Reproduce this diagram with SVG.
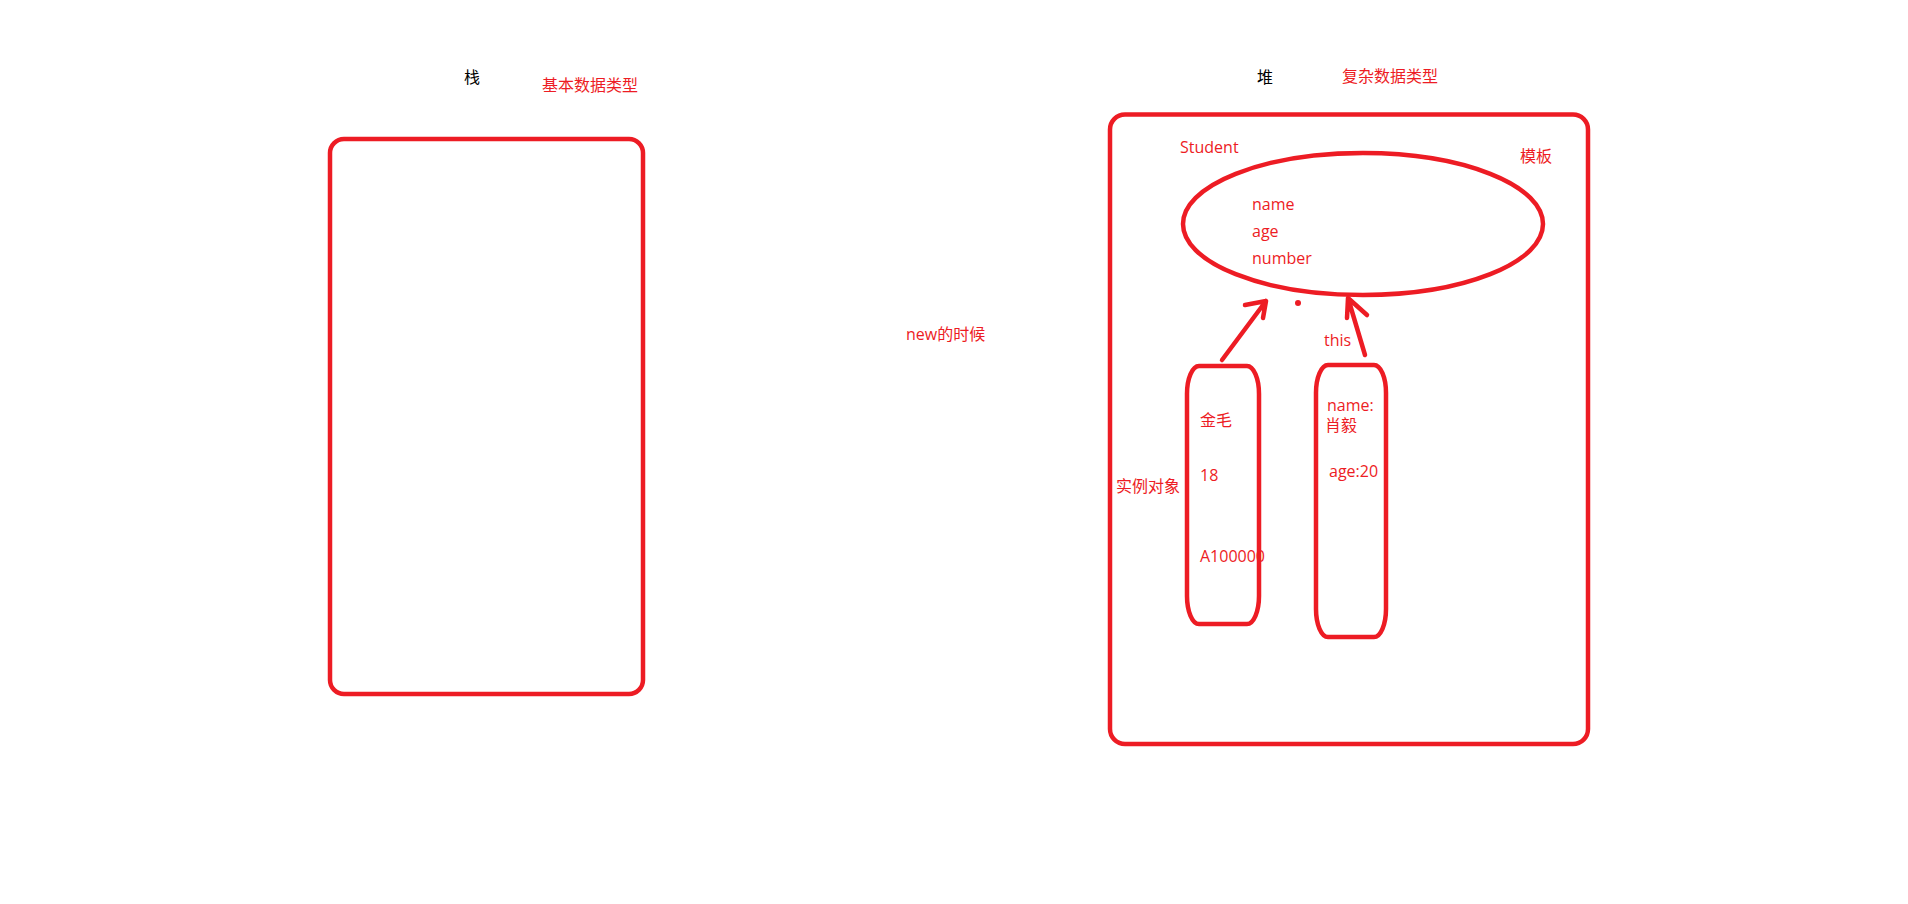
<svg xmlns="http://www.w3.org/2000/svg" width="1908" height="904" viewBox="0 0 1908 904">
<style>
.shape{fill:none;stroke:#ED1C24;stroke-width:4.5;stroke-linecap:round;stroke-linejoin:round}
.t{font-family:"Open Sans","Noto Sans CJK SC",sans-serif;font-size:16px;fill:#ED1C24}
.k{font-family:"Open Sans","Noto Sans CJK SC",sans-serif;font-size:16px;fill:#000}
.conn{fill:none;stroke:#ED1C24;stroke-width:4.5;stroke-linecap:round;stroke-linejoin:round}
</style>
<rect width="1908" height="904" fill="#fff"/>
<g id="stack">
<rect class="shape" x="330" y="139" width="313" height="555" rx="14" ry="14"/>
<text class="k" x="464" y="83">栈</text>
<text class="t" x="542" y="91">基本数据类型</text>
</g>
<g id="heap">
<rect class="shape" x="1110" y="114.5" width="478" height="629.5" rx="15" ry="15"/>
<text class="k" x="1257" y="83">堆</text>
<text class="t" x="1342" y="82">复杂数据类型</text>
</g>
<g id="note-new">
<text class="t" x="906" y="340">new的时候</text>
</g>
<g id="student">
<ellipse class="shape" cx="1363" cy="224" rx="180" ry="71"/>
<text class="t" x="1180" y="153">Student</text>
<text class="t" x="1520" y="162">模板</text>
<text class="t" x="1252" y="210">name</text>
<text class="t" x="1252" y="237">age</text>
<text class="t" x="1252" y="264">number</text>
</g>
<g id="instance1">
<rect class="shape" x="1187" y="366" width="72" height="258" rx="12" ry="28"/>
<text class="t" x="1200" y="426">金毛</text>
<text class="t" x="1200" y="481">18</text>
<text class="t" x="1200" y="562">A100000</text>
<text class="t" x="1116" y="492">实例对象</text>
</g>
<g id="instance2">
<rect class="shape" x="1316" y="365" width="70" height="272" rx="12" ry="28"/>
<text class="t" x="1327" y="411">name:</text>
<text class="t" x="1325" y="431">肖毅</text>
<text class="t" x="1329" y="477">age:20</text>
</g>
<g id="connectors">
<path class="conn" d="M1222 360 L1266 301 M1245 305 L1266 301 L1263 318"/>
<path class="conn" d="M1365 355 L1348 298 M1347 318 L1348 298 L1367 315"/>
<circle cx="1298" cy="303" r="3" fill="#ED1C24"/>
<text class="t" x="1324" y="346">this</text>
</g>
</svg>
